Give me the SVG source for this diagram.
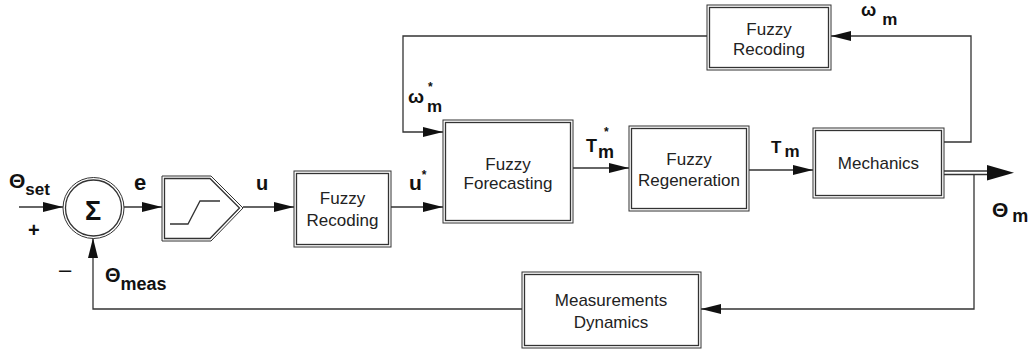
<svg xmlns="http://www.w3.org/2000/svg" width="1030" height="349" viewBox="0 0 1030 349">
<defs>
<style>
.box-o{fill:#fff;stroke:#333;stroke-width:1}
.box-i{fill:none;stroke:#333;stroke-width:1.3}
.wire{fill:none;stroke:#333;stroke-width:1.3}
.bt{font-family:"Liberation Sans",Arial,sans-serif;font-size:17px;fill:#222;text-anchor:middle}
.lb{font-family:"Liberation Sans",Arial,sans-serif;font-weight:bold;fill:#111}
</style>
<marker id="arr" markerUnits="userSpaceOnUse" markerWidth="20" markerHeight="10" refX="20" refY="5" orient="auto">
<path d="M0,0 L20,5 L0,10 z" fill="#111"/>
</marker>
</defs>
<rect width="1030" height="349" fill="#fff"/>

<g id="connectors">
<line class="wire" x1="19" y1="207" x2="63" y2="207" marker-end="url(#arr)"/>
<line class="wire" x1="124" y1="207" x2="162" y2="207" marker-end="url(#arr)"/>
<line class="wire" x1="243" y1="207" x2="294" y2="207" marker-end="url(#arr)"/>
<line class="wire" x1="391" y1="207" x2="443" y2="207" marker-end="url(#arr)"/>
<polyline class="wire" points="707,36 403,36 403,132 443,132" marker-end="url(#arr)"/>
<line class="wire" x1="573" y1="168" x2="629" y2="168" marker-end="url(#arr)"/>
<line class="wire" x1="749" y1="170" x2="813" y2="170" marker-end="url(#arr)"/>
<polyline class="wire" points="944,142 971,142 971,36 831,36" marker-end="url(#arr)"/>
<line class="wire" x1="944" y1="171" x2="990" y2="171"/>
<line class="wire" x1="944" y1="174.5" x2="990" y2="174.5"/>
<polygon points="987,165 1014,172.7 987,180.4" fill="#111"/>
<polyline class="wire" points="974,174.5 974,309 701,309" marker-end="url(#arr)"/>
<polyline class="wire" points="522,309 93,309 93,238" marker-end="url(#arr)"/>
</g>

<g id="sum">
<circle cx="93.5" cy="208" r="30.5" class="box-o"/>
<circle cx="93.5" cy="208" r="28" class="box-i"/>
<text x="93" y="220" class="lb" font-size="27" text-anchor="middle">Σ</text>
</g>

<g id="saturation">
<polygon points="162,176 211,176 243,208 211,241 162,241" class="box-o"/>
<polygon points="164.5,178.5 210,178.5 239.5,208 210,238.5 164.5,238.5" class="box-i"/>
<polyline points="170,224 188,224 200,201 220,201" fill="none" stroke="#333" stroke-width="1.3"/>
</g>

<g id="fuzzy-recoding">
<rect x="294" y="171" width="97" height="76" class="box-o"/>
<rect x="296.5" y="173.5" width="92" height="71" class="box-i"/>
<text x="342.5" y="204" class="bt">Fuzzy</text>
<text x="342.5" y="226" class="bt">Recoding</text>
</g>

<g id="fuzzy-forecasting">
<rect x="443" y="120" width="130" height="103" class="box-o"/>
<rect x="445.5" y="122.5" width="125" height="98" class="box-i"/>
<text x="508" y="170" class="bt">Fuzzy</text>
<text x="508" y="189" class="bt">Forecasting</text>
</g>

<g id="fuzzy-regeneration">
<rect x="629" y="126" width="120" height="85" class="box-o"/>
<rect x="631.5" y="128.5" width="115" height="80" class="box-i"/>
<text x="689" y="165" class="bt">Fuzzy</text>
<text x="689" y="186" class="bt">Regeneration</text>
</g>

<g id="mechanics">
<rect x="813" y="128" width="131" height="70" class="box-o"/>
<rect x="815.5" y="130.5" width="126" height="65" class="box-i"/>
<text x="878.5" y="169" class="bt">Mechanics</text>
</g>

<g id="fuzzy-recoding-top">
<rect x="707" y="5" width="124" height="65" class="box-o"/>
<rect x="709.5" y="7.5" width="119" height="60" class="box-i"/>
<text x="769" y="35" class="bt">Fuzzy</text>
<text x="769" y="55" class="bt">Recoding</text>
</g>

<g id="measurements-dynamics">
<rect x="522" y="272" width="179" height="76" class="box-o"/>
<rect x="524.5" y="274.5" width="174" height="71" class="box-i"/>
<text x="611" y="306" class="bt">Measurements</text>
<text x="611" y="328" class="bt">Dynamics</text>
</g>

<g id="labels">
<text x="9" y="188" class="lb" font-size="21">Θ<tspan font-size="17" dy="7">set</tspan></text>
<text x="28" y="237" class="lb" font-size="20">+</text>
<text x="59" y="277" font-family="Liberation Sans,Arial,sans-serif" font-size="22" fill="#111">–</text>
<text x="105" y="282" class="lb" font-size="20">Θ<tspan font-size="18" dy="8">meas</tspan></text>
<text x="134" y="190" class="lb" font-size="22">e</text>
<text x="256" y="190" class="lb" font-size="20">u</text>
<text x="409" y="190" class="lb" font-size="21">u<tspan font-size="12" dy="-11">*</tspan></text>
<text x="408" y="103" class="lb" font-size="19">ω</text>
<text x="428" y="91" class="lb" font-size="12">*</text>
<text x="427" y="112" class="lb" font-size="17">m</text>
<text x="586" y="152" class="lb" font-size="18">T</text>
<text x="604" y="136" class="lb" font-size="12">*</text>
<text x="598" y="158" class="lb" font-size="18">m</text>
<text x="771" y="153" class="lb" font-size="17">T<tspan font-size="17" dx="3" dy="4">m</tspan></text>
<text x="861" y="16" class="lb" font-size="18">ω<tspan font-size="17" dx="6" dy="9">m</tspan></text>
<text x="992" y="217" class="lb" font-size="21">Θ<tspan font-size="18" dx="4" dy="5">m</tspan></text>
</g>
</svg>
